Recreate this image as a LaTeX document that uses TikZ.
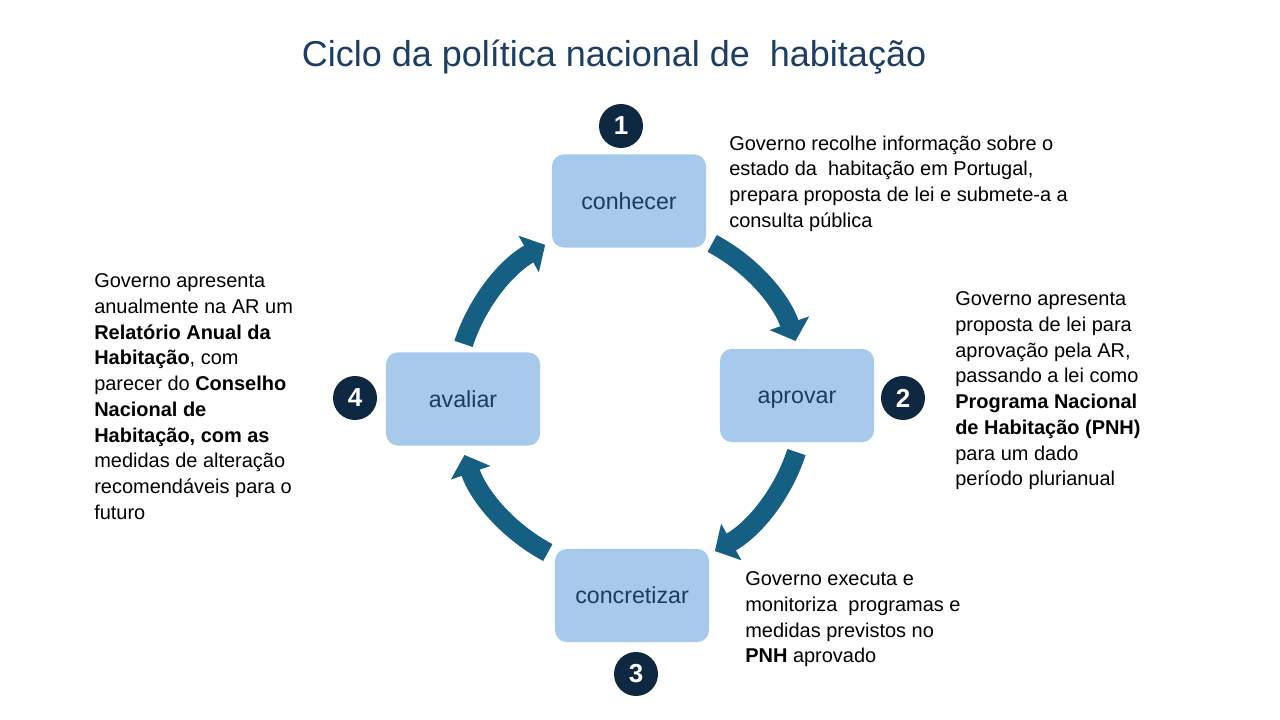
\documentclass[tikz,border=0pt]{standalone}
\usepackage{fontspec}
\setmainfont{Liberation Sans}
\usetikzlibrary{arrows.meta}
\definecolor{caixa}{HTML}{A6C9EC}
\definecolor{seta}{HTML}{156082}
\definecolor{escuro}{HTML}{0E2841}
\definecolor{titulo}{HTML}{1D3E63}
\definecolor{letra}{HTML}{1D3B5C}

\begin{document}
\begin{tikzpicture}[x=0.025cm, y=0.025cm,
        fase/.style={fill=caixa, rounded corners=0.3cm, minimum width=3.85cm, minimum height=2.33cm, text height=15pt, text depth=3.4pt, text=letra, font=\fontsize{16.5}{20}\selectfont},
        num/.style={circle, fill=escuro, minimum size=1.1cm, inner sep=0pt, text=white, font=\fontsize{18.5}{20}\selectfont\bfseries},
        desc/.style={anchor=north west, inner sep=0pt, align=left, font=\fontsize{14.2}{18.3}\selectfont},
        ciclo/.style={draw=seta, line width=0.48cm, -{Triangle[width=1.02cm, length=0.47cm]}}]
        \useasboundingbox (0,0) rectangle (1280,720);

        % title
        \node[anchor=base, text=titulo, font=\fontsize{25.6}{30}\selectfont] (titulo) at (614,653.3) {Ciclo da política nacional de\ \ habitação};

        % phases
        \node[fase] (f1) at (629,519) {conhecer};
        \node[fase] (f2) at (797,324.5) {aprovar};
        \node[fase] (f3) at (632,124.5) {concretizar};
        \node[fase] (f4) at (463,321) {avaliar};

        % numbers
        \foreach \i/\x/\y in {1/621/594, 2/903/322, 3/636/46, 4/355/322}
            \node[num] (n\i) at (\x,\y) {\i};

        % cycle arrows
        \begin{scope}[shift={(630,322)}]
            \coordinate (c) at (0,0);
            \foreach \a [count=\i] in {62,-18,-118,162} {
                \coordinate (a\i) at (\a:4.375cm);
                \draw[ciclo] (a\i) arc[start angle=\a, delta angle=-43, radius=4.375cm];
            }
        \end{scope}

        % descriptions
        \node[desc] (t1) at (729,584.6) {Governo recolhe informação sobre o\\estado da\ \ habitação em Portugal,\\prepara proposta de lei e submete-a a\\consulta pública};
        \node[desc] (t2) at (955,428.6) {Governo apresenta\\proposta de lei para\\aprovação pela AR,\\passando a lei como\\\textbf{Programa Nacional}\\\textbf{de Habitação (PNH)}\\para um dado\\período plurianual};
        \node[desc] (t3) at (745,148.6) {Governo executa e\\monitoriza\ \ programas e\\medidas previstos no\\\textbf{PNH} aprovado};
        \node[desc] (t4) at (94,446.6) {Governo apresenta\\anualmente na AR um\\\textbf{Relatório Anual da}\\\textbf{Habitação}, com\\parecer do \textbf{Conselho}\\\textbf{Nacional de}\\\textbf{Habitação, com as}\\medidas de alteração\\recomendáveis para o\\futuro};
    \end{tikzpicture}
\end{document}
